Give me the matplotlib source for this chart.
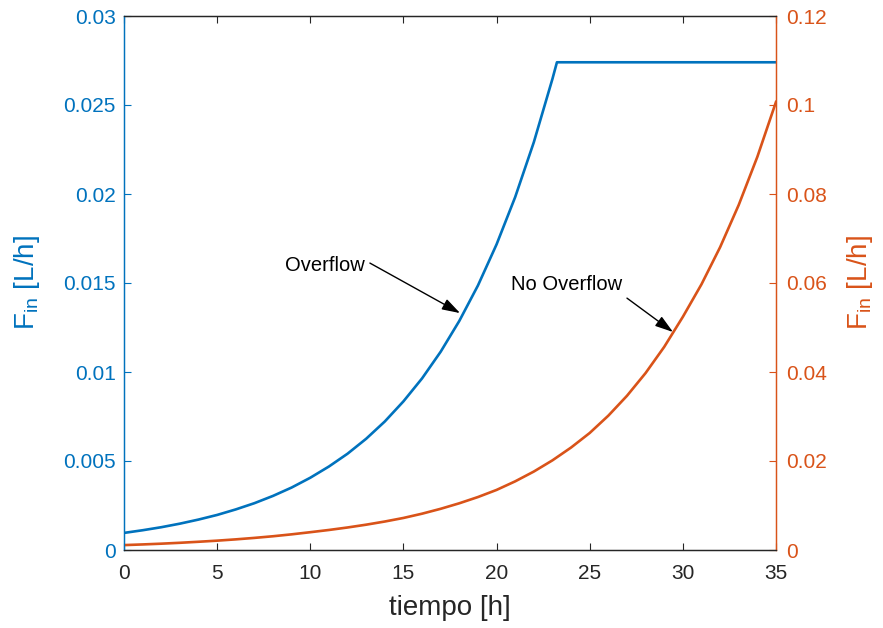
import matplotlib
matplotlib.use("Agg")
import matplotlib.pyplot as plt

plt.rcParams['font.family'] = ['Liberation Sans', 'DejaVu Sans']
plt.rcParams['mathtext.fontset'] = 'custom'
plt.rcParams['mathtext.rm'] = 'Liberation Sans'

# time [h]
t_overflow = [0, 1, 2, 3, 4, 5, 6, 7, 8, 9, 10, 11, 12, 13, 14, 15, 16, 17, 18,
              19, 20, 21, 22, 23, 23.24, 24, 26, 28, 30, 32, 34, 35]
f_overflow = [0.00096, 0.00111, 0.00128, 0.00148, 0.00171, 0.00197, 0.00228,
              0.00263, 0.00304, 0.00351, 0.00406, 0.00469, 0.00541, 0.00625,
              0.00722, 0.00835, 0.00964, 0.01114, 0.01287, 0.01486, 0.01717,
              0.01983, 0.02291, 0.02647, 0.0274, 0.0274, 0.0274, 0.0274,
              0.0274, 0.0274, 0.0274, 0.0274]

t_noover = list(range(0, 36))
f_noover = [0.00110, 0.00125, 0.00142, 0.00162, 0.00185, 0.00210,
            0.00239, 0.00272, 0.00309, 0.00352, 0.00400,
            0.00450, 0.00506, 0.00569, 0.00640, 0.00720,
            0.00816, 0.00926, 0.01050, 0.01190, 0.01350,
            0.01543, 0.01763, 0.02015, 0.02303, 0.02630,
            0.03019, 0.03465, 0.03977, 0.04565, 0.05240,
            0.05971, 0.06805, 0.07755, 0.08837, 0.10070]

x_ticks = [0, 5, 10, 15, 20, 25, 30, 35]
yl_ticks = [0, 0.005, 0.01, 0.015, 0.02, 0.025, 0.03]
yl_labels = ['0', '0.005', '0.01', '0.015', '0.02', '0.025', '0.03']
yr_ticks = [0, 0.02, 0.04, 0.06, 0.08, 0.1, 0.12]
yr_labels = ['0', '0.02', '0.04', '0.06', '0.08', '0.1', '0.12']

BLUE = '#0072BD'
ORANGE = '#D95319'
DARK = '#262626'

fig = plt.figure(figsize=(8.83, 6.28), dpi=100)
ax = fig.add_axes([124/883, 78/628, (776-124)/883, (550-16)/628])
ax2 = ax.twinx()

ax.plot(t_overflow, f_overflow, color=BLUE, lw=1.9)
ax2.plot(t_noover, f_noover, color=ORANGE, lw=1.9)

ax.set_xlim(0, 35)
ax.set_ylim(0, 0.03)
ax2.set_ylim(0, 0.12)
ax.set_xticks(x_ticks)
ax.set_xticklabels([str(v) for v in x_ticks])
ax.set_yticks(yl_ticks)
ax.set_yticklabels(yl_labels)
ax2.set_yticks(yr_ticks)
ax2.set_yticklabels(yr_labels)

ax.tick_params(axis='x', direction='in', top=True, length=5, width=0.8,
               colors=DARK, labelsize=15, pad=10)
ax.tick_params(axis='y', direction='in', length=5, width=0.8,
               colors=BLUE, labelsize=15, pad=6)
ax2.tick_params(axis='y', direction='in', length=5, width=0.8,
                colors=ORANGE, labelsize=15, pad=7)

for a in (ax, ax2):
    a.spines['top'].set_color(DARK)
    a.spines['bottom'].set_color(DARK)
    a.spines['left'].set_color(BLUE)
    a.spines['right'].set_color(ORANGE)
    for s in a.spines.values():
        s.set_linewidth(0.9)

ax.set_xlabel('tiempo [h]', fontsize=20, color=DARK, labelpad=9)
ax.set_ylabel(r'F$_{\mathrm{in}}$ [L/h]', fontsize=20, color=BLUE, labelpad=15)
ax2.set_ylabel(r'F$_{\mathrm{in}}$ [L/h]', fontsize=20, color=ORANGE,
               labelpad=13, rotation=90)

arrow_style = '-|>,head_length=1.1,head_width=0.35'
ax.annotate('', xy=(18.04, 0.01331), xytext=(13.2, 0.01612),
            arrowprops=dict(arrowstyle=arrow_style,
                            color='black', lw=1.0, shrinkA=0, shrinkB=0))
ax.text(8.64, 0.01601, 'Overflow', fontsize=14.5, color='black',
        va='center', ha='left')

ax2.annotate('', xy=(29.47, 0.04899), xytext=(27.0, 0.0566),
             arrowprops=dict(arrowstyle=arrow_style,
                             color='black', lw=1.0, shrinkA=0, shrinkB=0))
ax2.text(20.77, 0.0596, 'No Overflow', fontsize=14.5, color='black',
         va='center', ha='left')

fig.savefig('out.png', dpi=100)
